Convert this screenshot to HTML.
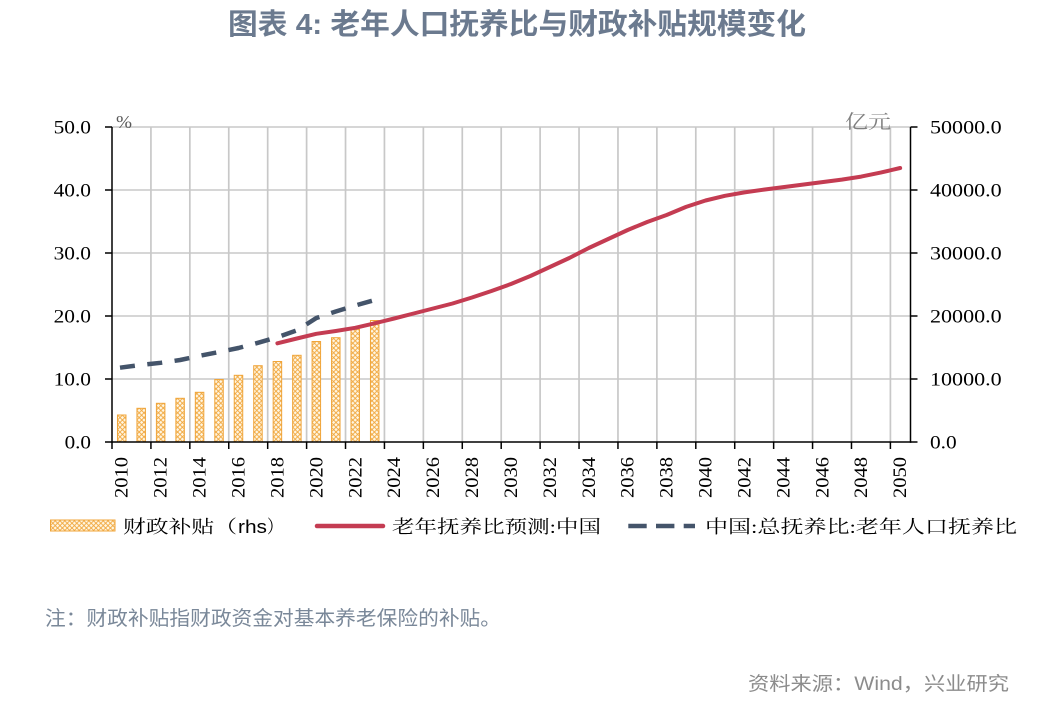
<!DOCTYPE html>
<html><head><meta charset="utf-8">
<style>
html,body{margin:0;padding:0;background:#fff;}
svg{display:block;}
.ax{font-family:"Liberation Serif",serif;font-size:19px;fill:#000;}
.cjk{font-family:"Liberation Serif","Noto Serif CJK SC",serif;}
.sans{font-family:"Liberation Sans","Noto Sans CJK SC",sans-serif;}
</style></head>
<body>
<svg width="1059" height="708" viewBox="0 0 1059 708" xmlns="http://www.w3.org/2000/svg">
<defs>
<pattern id="hatch" patternUnits="userSpaceOnUse" width="4.8" height="4.8">
<rect width="4.8" height="4.8" fill="#fff6e2"/>
<path d="M0,0 L4.8,4.8 M4.8,0 L0,4.8" stroke="#f0a53a" stroke-width="0.9"/>
</pattern>
</defs>
<rect width="1059" height="708" fill="#fff"/>

<!-- Title -->
<text class="sans" x="228" y="34" font-size="29" font-weight="bold" fill="#6b7a8f" textLength="578" lengthAdjust="spacingAndGlyphs">图表 4: 老年人口抚养比与财政补贴规模变化</text>

<!-- horizontal grid -->
<g stroke="#c8c8c8" stroke-width="1.5">
<line x1="112" y1="127" x2="910" y2="127"/>
<line x1="112" y1="190" x2="910" y2="190"/>
<line x1="112" y1="253" x2="910" y2="253"/>
<line x1="112" y1="316" x2="910" y2="316"/>
<line x1="112" y1="379" x2="910" y2="379"/>
</g>
<!-- vertical grid -->
<g stroke="#c8c8c8" stroke-width="1.7">
<line x1="150.92" y1="127" x2="150.92" y2="442"/>
<line x1="189.84" y1="127" x2="189.84" y2="442"/>
<line x1="228.76" y1="127" x2="228.76" y2="442"/>
<line x1="267.68" y1="127" x2="267.68" y2="442"/>
<line x1="306.6" y1="127" x2="306.6" y2="442"/>
<line x1="345.52" y1="127" x2="345.52" y2="442"/>
<line x1="384.44" y1="127" x2="384.44" y2="442"/>
<line x1="423.36" y1="127" x2="423.36" y2="442"/>
<line x1="462.28" y1="127" x2="462.28" y2="442"/>
<line x1="501.2" y1="127" x2="501.2" y2="442"/>
<line x1="540.12" y1="127" x2="540.12" y2="442"/>
<line x1="579.04" y1="127" x2="579.04" y2="442"/>
<line x1="617.96" y1="127" x2="617.96" y2="442"/>
<line x1="656.88" y1="127" x2="656.88" y2="442"/>
<line x1="695.8" y1="127" x2="695.8" y2="442"/>
<line x1="734.72" y1="127" x2="734.72" y2="442"/>
<line x1="773.64" y1="127" x2="773.64" y2="442"/>
<line x1="812.56" y1="127" x2="812.56" y2="442"/>
<line x1="851.48" y1="127" x2="851.48" y2="442"/>
<line x1="890.4" y1="127" x2="890.4" y2="442"/>
</g>

<!-- bars -->
<g fill="url(#hatch)" stroke="#f0a53a" stroke-width="1">
<rect x="117.48" y="415" width="8.5" height="27"/>
<rect x="136.94" y="408.3" width="8.5" height="33.7"/>
<rect x="156.40" y="403.3" width="8.5" height="38.7"/>
<rect x="175.86" y="398.3" width="8.5" height="43.7"/>
<rect x="195.32" y="392.3" width="8.5" height="49.7"/>
<rect x="214.78" y="379.5" width="8.5" height="62.5"/>
<rect x="234.24" y="375.3" width="8.5" height="66.7"/>
<rect x="253.70" y="365.7" width="8.5" height="76.3"/>
<rect x="273.16" y="361.5" width="8.5" height="80.5"/>
<rect x="292.62" y="355.3" width="8.5" height="86.7"/>
<rect x="312.08" y="341.5" width="8.5" height="100.5"/>
<rect x="331.54" y="337.7" width="8.5" height="104.3"/>
<rect x="351.00" y="329.3" width="8.5" height="112.7"/>
<rect x="370.46" y="320.5" width="8.5" height="121.5"/>
</g>

<!-- dashed line -->
<polyline fill="none" stroke="#44546a" stroke-width="4.5" stroke-dasharray="15 12.5" stroke-linejoin="round"
points="120,367.7 141.19,364.9 160.65,362.8 180.11,360 199.57,355.8 219.03,352 238.49,348 257.95,342.8 277.41,337.2 296.87,330.4 316.33,318 335.79,311.5 355.25,305.5 374.71,300"/>

<!-- red line -->
<polyline fill="none" stroke="#c43c52" stroke-width="4" stroke-linejoin="round" stroke-linecap="round"
points="277.41,343.3 296.87,338.5 316.33,333.8 335.79,331 355.25,327.8 374.71,323.3 394.17,318.5 413.63,313.5 433.09,308.5 452.55,303.5 472.01,297.5 491.47,291 510.93,284 530.39,276 549.85,267 569.31,258 588.77,248 608.23,239 627.69,230 647.15,222 666.61,215 686.07,206.9 705.53,200.5 724.99,195.8 744.45,192.4 763.91,189.6 783.37,187.1 802.83,184.6 822.29,182.1 841.75,179.6 861.21,176.6 880.67,172.6 900.13,168"/>

<!-- axes -->
<g stroke="#000" stroke-width="1.5" fill="none">
<line x1="112" y1="127" x2="112" y2="442.7"/>
<line x1="910.5" y1="127" x2="910.5" y2="442.7"/>
<line x1="111.3" y1="442" x2="911.2" y2="442"/>
<line x1="105" y1="127" x2="112" y2="127"/>
<line x1="105" y1="190" x2="112" y2="190"/>
<line x1="105" y1="253" x2="112" y2="253"/>
<line x1="105" y1="316" x2="112" y2="316"/>
<line x1="105" y1="379" x2="112" y2="379"/>
<line x1="105" y1="442" x2="112" y2="442"/>
<line x1="910.5" y1="127" x2="917.5" y2="127"/>
<line x1="910.5" y1="190" x2="917.5" y2="190"/>
<line x1="910.5" y1="253" x2="917.5" y2="253"/>
<line x1="910.5" y1="316" x2="917.5" y2="316"/>
<line x1="910.5" y1="379" x2="917.5" y2="379"/>
<line x1="910.5" y1="442" x2="917.5" y2="442"/>
<line x1="112" y1="442" x2="112" y2="449"/>
<line x1="150.92" y1="442" x2="150.92" y2="449"/>
<line x1="189.84" y1="442" x2="189.84" y2="449"/>
<line x1="228.76" y1="442" x2="228.76" y2="449"/>
<line x1="267.68" y1="442" x2="267.68" y2="449"/>
<line x1="306.6" y1="442" x2="306.6" y2="449"/>
<line x1="345.52" y1="442" x2="345.52" y2="449"/>
<line x1="384.44" y1="442" x2="384.44" y2="449"/>
<line x1="423.36" y1="442" x2="423.36" y2="449"/>
<line x1="462.28" y1="442" x2="462.28" y2="449"/>
<line x1="501.2" y1="442" x2="501.2" y2="449"/>
<line x1="540.12" y1="442" x2="540.12" y2="449"/>
<line x1="579.04" y1="442" x2="579.04" y2="449"/>
<line x1="617.96" y1="442" x2="617.96" y2="449"/>
<line x1="656.88" y1="442" x2="656.88" y2="449"/>
<line x1="695.8" y1="442" x2="695.8" y2="449"/>
<line x1="734.72" y1="442" x2="734.72" y2="449"/>
<line x1="773.64" y1="442" x2="773.64" y2="449"/>
<line x1="812.56" y1="442" x2="812.56" y2="449"/>
<line x1="851.48" y1="442" x2="851.48" y2="449"/>
<line x1="890.4" y1="442" x2="890.4" y2="449"/>
</g>

<!-- left axis labels -->
<g class="ax">
<text x="53.6" y="133.3" textLength="37.4" lengthAdjust="spacingAndGlyphs">50.0</text>
<text x="53.6" y="196.3" textLength="37.4" lengthAdjust="spacingAndGlyphs">40.0</text>
<text x="53.6" y="259.3" textLength="37.4" lengthAdjust="spacingAndGlyphs">30.0</text>
<text x="53.6" y="322.3" textLength="37.4" lengthAdjust="spacingAndGlyphs">20.0</text>
<text x="53.6" y="385.3" textLength="37.4" lengthAdjust="spacingAndGlyphs">10.0</text>
<text x="64.6" y="448.3" textLength="26.4" lengthAdjust="spacingAndGlyphs">0.0</text>
</g>
<!-- right axis labels -->
<g class="ax">
<text x="930" y="133.3" textLength="71.7" lengthAdjust="spacingAndGlyphs">50000.0</text>
<text x="930" y="196.3" textLength="71.7" lengthAdjust="spacingAndGlyphs">40000.0</text>
<text x="930" y="259.3" textLength="71.7" lengthAdjust="spacingAndGlyphs">30000.0</text>
<text x="930" y="322.3" textLength="71.7" lengthAdjust="spacingAndGlyphs">20000.0</text>
<text x="930" y="385.3" textLength="71.7" lengthAdjust="spacingAndGlyphs">10000.0</text>
<text x="930" y="448.3" textLength="26.7" lengthAdjust="spacingAndGlyphs">0.0</text>
</g>

<!-- x axis labels -->
<g class="ax">
<text transform="translate(127.73,498) rotate(-90)" textLength="41" lengthAdjust="spacingAndGlyphs">2010</text>
<text transform="translate(166.65,498) rotate(-90)" textLength="41" lengthAdjust="spacingAndGlyphs">2012</text>
<text transform="translate(205.57,498) rotate(-90)" textLength="41" lengthAdjust="spacingAndGlyphs">2014</text>
<text transform="translate(244.49,498) rotate(-90)" textLength="41" lengthAdjust="spacingAndGlyphs">2016</text>
<text transform="translate(283.41,498) rotate(-90)" textLength="41" lengthAdjust="spacingAndGlyphs">2018</text>
<text transform="translate(322.33,498) rotate(-90)" textLength="41" lengthAdjust="spacingAndGlyphs">2020</text>
<text transform="translate(361.25,498) rotate(-90)" textLength="41" lengthAdjust="spacingAndGlyphs">2022</text>
<text transform="translate(400.17,498) rotate(-90)" textLength="41" lengthAdjust="spacingAndGlyphs">2024</text>
<text transform="translate(439.09,498) rotate(-90)" textLength="41" lengthAdjust="spacingAndGlyphs">2026</text>
<text transform="translate(478.01,498) rotate(-90)" textLength="41" lengthAdjust="spacingAndGlyphs">2028</text>
<text transform="translate(516.93,498) rotate(-90)" textLength="41" lengthAdjust="spacingAndGlyphs">2030</text>
<text transform="translate(555.85,498) rotate(-90)" textLength="41" lengthAdjust="spacingAndGlyphs">2032</text>
<text transform="translate(594.77,498) rotate(-90)" textLength="41" lengthAdjust="spacingAndGlyphs">2034</text>
<text transform="translate(633.69,498) rotate(-90)" textLength="41" lengthAdjust="spacingAndGlyphs">2036</text>
<text transform="translate(672.61,498) rotate(-90)" textLength="41" lengthAdjust="spacingAndGlyphs">2038</text>
<text transform="translate(711.53,498) rotate(-90)" textLength="41" lengthAdjust="spacingAndGlyphs">2040</text>
<text transform="translate(750.45,498) rotate(-90)" textLength="41" lengthAdjust="spacingAndGlyphs">2042</text>
<text transform="translate(789.37,498) rotate(-90)" textLength="41" lengthAdjust="spacingAndGlyphs">2044</text>
<text transform="translate(828.29,498) rotate(-90)" textLength="41" lengthAdjust="spacingAndGlyphs">2046</text>
<text transform="translate(867.21,498) rotate(-90)" textLength="41" lengthAdjust="spacingAndGlyphs">2048</text>
<text transform="translate(906.13,498) rotate(-90)" textLength="41" lengthAdjust="spacingAndGlyphs">2050</text>
</g>

<!-- unit labels -->
<text x="116" y="128" font-family="Liberation Serif, serif" font-size="18" fill="#595959" textLength="16" lengthAdjust="spacingAndGlyphs">%</text>
<text class="cjk" x="845" y="128" font-size="19" fill="#7f7f7f" textLength="46" lengthAdjust="spacingAndGlyphs">亿元</text>

<!-- legend -->
<rect x="50.5" y="520" width="64.5" height="11" fill="url(#hatch)" stroke="#f0a53a" stroke-width="1"/>
<text class="cjk" x="123" y="533" font-size="18" fill="#000" textLength="114" lengthAdjust="spacingAndGlyphs">财政补贴（</text>
<text class="sans" x="238" y="533" font-size="18" fill="#000" textLength="29" lengthAdjust="spacingAndGlyphs">rhs</text>
<text class="cjk" x="267" y="533" font-size="18" fill="#000" textLength="16" lengthAdjust="spacingAndGlyphs">）</text>
<line x1="317" y1="526" x2="383" y2="526" stroke="#c43c52" stroke-width="4.5" stroke-linecap="round"/>
<text class="cjk" x="392" y="533" font-size="18" fill="#000" textLength="209" lengthAdjust="spacingAndGlyphs">老年抚养比预测:中国</text>
<line x1="628.3" y1="526" x2="695" y2="526" stroke="#44546a" stroke-width="4.5" stroke-dasharray="18.4 9.3"/>
<text class="cjk" x="705" y="533" font-size="18" fill="#000" textLength="312" lengthAdjust="spacingAndGlyphs">中国:总抚养比:老年人口抚养比</text>

<!-- notes -->
<text class="sans" x="45" y="625" font-size="20" fill="#7a8899" textLength="456" lengthAdjust="spacingAndGlyphs">注：财政补贴指财政资金对基本养老保险的补贴。</text>
<text class="sans" x="748" y="690" font-size="19" fill="#8c8c8c" textLength="261" lengthAdjust="spacingAndGlyphs">资料来源：Wind，兴业研究</text>
</svg>
</body></html>
